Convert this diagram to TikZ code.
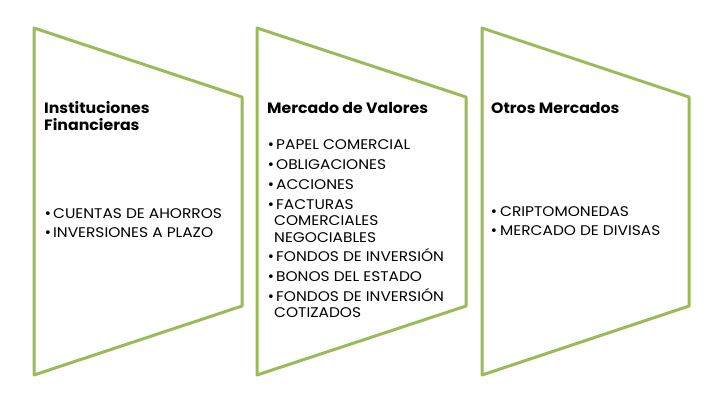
\documentclass[tikz,border=0pt]{standalone}
\usepackage{fontspec}
\setmainfont{Poppins}
\newfontfamily\titlefont[FakeStretch=1.05]{Poppins}
\newfontfamily\itemfont[FakeStretch=1.1]{Poppins}
\newfontfamily\bulfont{DejaVu Sans}
\definecolor{olive}{HTML}{9BBB59}
\begin{document}
\begin{tikzpicture}[x=1pt,y=-1pt,
  panel/.style={draw=olive,line width=3pt,line join=round},
  title/.style={anchor=base west,inner sep=0pt,font=\titlefont\fontsize{15}{17}\selectfont\bfseries},
  item/.style={anchor=base west,inner sep=0pt,font=\itemfont\fontsize{14}{17}\selectfont},
  bul/.style={anchor=base west,inner sep=0pt,font=\bulfont\fontsize{13}{14}\selectfont}]
\useasboundingbox (0,0) rectangle (722,410);
% panels
\draw[panel] (34,28) -- (242,97) -- (242,306) -- (34,375) -- cycle;
\draw[panel] (257,28) -- (466,97) -- (466,306) -- (257,375) -- cycle;
\draw[panel] (482,28) -- (689,97) -- (689,306) -- (482,375) -- cycle;
% titles
\node[title] (t1a) at (44,113) {Instituciones};
\node[title] (t1b) at (44,130) {Financieras};
\node[title] (t2) at (267,113) {Mercado de Valores};
\node[title] (t3) at (491,113) {Otros Mercados};
% panel 1 items
\node[bul] (b11) at (44,218) {•};
\node[item] (i11) at (53,218) {CUENTAS DE AHORROS};
\node[bul] (b12) at (44,237) {•};
\node[item] (i12) at (53,237) {INVERSIONES A PLAZO};
% panel 2 items
\node[bul] (b21) at (267,149) {•};
\node[item] (i21) at (276,149) {PAPEL COMERCIAL};
\node[bul] (b22) at (267,169) {•};
\node[item] (i22) at (276,169) {OBLIGACIONES};
\node[bul] (b23) at (267,189) {•};
\node[item] (i23) at (276,189) {ACCIONES};
\node[bul] (b24) at (267,209) {•};
\node[item] (i24) at (276,209) {FACTURAS};
\node[item] (i24b) at (274,225) {COMERCIALES};
\node[item] (i24c) at (274,242) {NEGOCIABLES};
\node[bul] (b25) at (267,261) {•};
\node[item] (i25) at (276,261) {FONDOS DE INVERSIÓN};
\node[bul] (b26) at (267,281) {•};
\node[item] (i26) at (276,281) {BONOS DEL ESTADO};
\node[bul] (b27) at (267,301) {•};
\node[item] (i27) at (276,301) {FONDOS DE INVERSIÓN};
\node[item] (i27b) at (274,317) {COTIZADOS};
% panel 3 items
\node[bul] (b31) at (490,216) {•};
\node[item] (i31) at (500,216) {CRIPTOMONEDAS};
\node[bul] (b32) at (490,235) {•};
\node[item] (i32) at (500,235) {MERCADO DE DIVISAS};
\end{tikzpicture}
\end{document}
